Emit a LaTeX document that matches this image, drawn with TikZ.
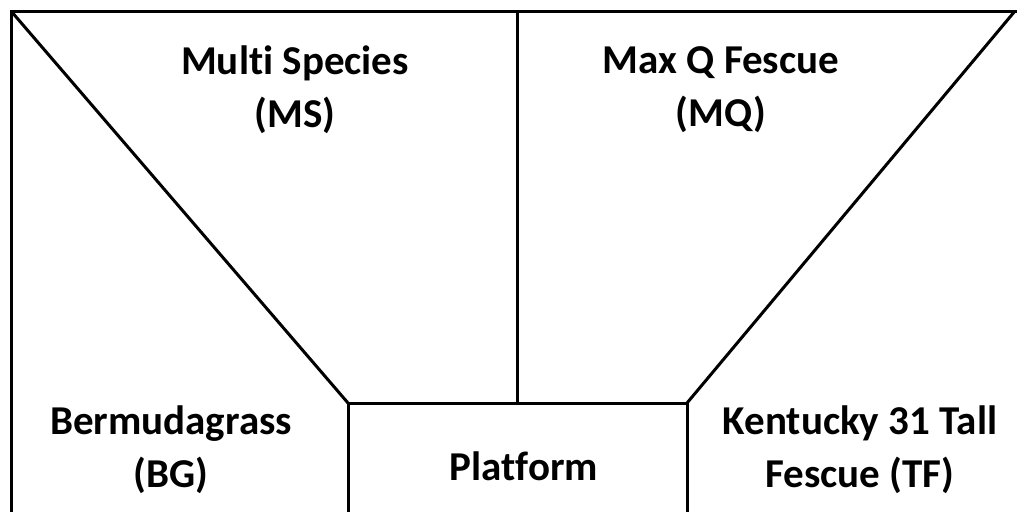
\documentclass[tikz,border=0pt]{standalone}
\usepackage{fontspec}
\setmainfont{Carlito}[Ligatures=NoCommon]
\begin{document}
\begin{tikzpicture}[x=1pt,y=-1pt,line width=3pt]
\useasboundingbox (0,0) rectangle (1017,512);
\tikzset{plot/.style={align=center, font=\fontsize{41}{53}\selectfont\bfseries}}
\coordinate (tl) at (11,11);
\coordinate (tm) at (517,11);
\coordinate (tr) at (1015,11);
\coordinate (te) at (1017,11);
\coordinate (bl) at (11,512);
\coordinate (pl) at (348,403);
\coordinate (pm) at (517,403);
\coordinate (pr) at (687,403);
\coordinate (pbl) at (348,512);
\coordinate (pbr) at (687,512);
\draw[](bl) -- (tl) -- (te);
\draw[](tl) -- (pl);
\draw[](tr) -- (pr);
\draw[](tm) -- (pm);
\draw[](pbl) -- (pl) -- (pr) -- (pbr);
\node[plot] (ms) at (295,90){Multi Species\\(MS)};
\node[plot] (mq) at (721,90){Max Q Fescue\\(MQ)};
\node[plot] (bg) at (171,450){Bermudagrass\\(BG)};
\node[plot] (tf) at (860,450){Kentucky 31 Tall\\Fescue (TF)};
\node[plot] (pf) at (524,466){Platform};

\end{tikzpicture}
\end{document}
